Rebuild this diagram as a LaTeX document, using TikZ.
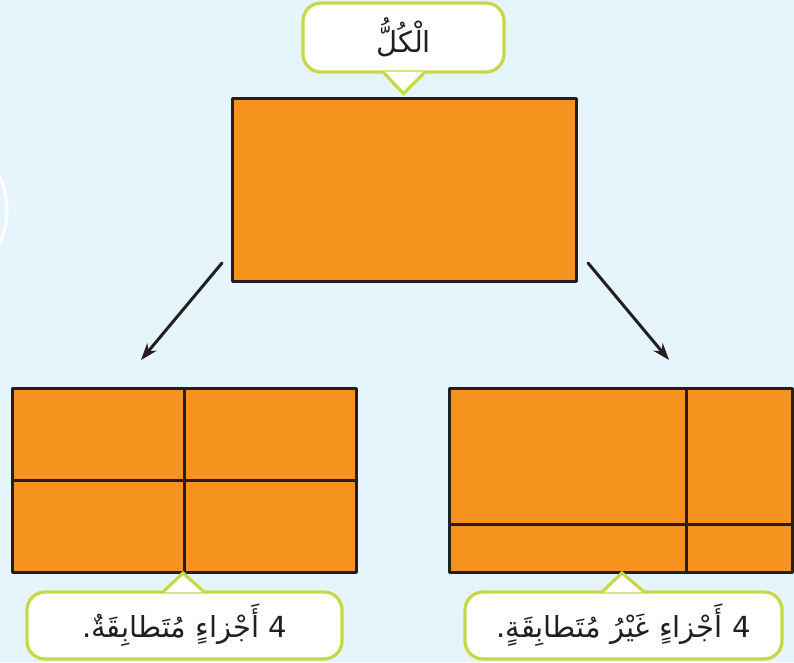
\documentclass[tikz,border=0pt]{standalone}
\usepackage{fontspec}
\usetikzlibrary{arrows.meta}
\newfontfamily\arabicfont[Script=Arabic]{DejaVu Sans}
\TeXXeTstate=1
\definecolor{skyback}{HTML}{E6F5FC}
\definecolor{partorange}{HTML}{F6931E}
\definecolor{inkline}{HTML}{231F20}
\definecolor{limeborder}{HTML}{C5D846}

\begin{document}
\begin{tikzpicture}[x=1pt,y=-1pt,line cap=round,line join=round,>={Stealth[length=17pt,width=12pt]},
  every node/.style={inner sep=1pt},
  piece/.style={draw=inkline,fill=partorange,line width=3pt,inner sep=0pt,outer sep=0pt},
  cut/.style={draw=inkline,line width=3pt,line cap=butt},
  bubble/.style={draw=limeborder,fill=white,line width=3.2pt,rounded corners=18pt,inner sep=0pt,
    font=\arabicfont\fontsize{29}{36}\selectfont,text=inkline},
  tip/.style={draw=limeborder,line width=3.2pt,line join=miter}]
  % background and faint ring at the left edge
  \fill[skyback] (0,0) rectangle (794,662);
  \useasboundingbox (0,0) rectangle (794,662);
  \draw[white,line width=3pt] (-73,210) circle (80);
  % the whole
  \node[piece,minimum width=344,minimum height=183] (whole) at (404,189.5) {};
  \node[bubble,minimum width=201,minimum height=69] (wholetag) at (403.5,37.5) {\beginR الْكُلُّ\endR};
  \coordinate (wholetip) at ([yshift=-20pt]wholetag.south);
  \fill[white] ([xshift=-19pt,yshift=2pt]wholetag.south) -- (wholetip) -- ([xshift=20pt,yshift=2pt]wholetag.south) -- cycle;
  \draw[tip] ([xshift=-19pt]wholetag.south) -- (wholetip) -- ([xshift=20pt]wholetag.south);
  % arrows down to the two ways of cutting
  \coordinate (lfrom) at (222,263);
  \coordinate (lto) at (141,360);
  \coordinate (rfrom) at (588,263);
  \coordinate (rto) at (669,360);
  \draw[->,line width=3pt,draw=inkline] (lfrom) -- (lto);
  \draw[->,line width=3pt,draw=inkline] (rfrom) -- (rto);
  % equal parts
  \node[piece,minimum width=344,minimum height=184] (equal) at (184,480) {};
  \draw[cut] (equal.north) -- (equal.south);
  \draw[cut] (equal.west) -- (equal.east);
  % unequal parts
  \node[piece,minimum width=343,minimum height=184] (unequal) at (620.5,480) {};
  \draw[cut] (686,388) -- (686,572);
  \draw[cut] (449,524) -- (792,524);
  % labels under the pieces
  \node[bubble,minimum width=315,minimum height=67] (equaltag) at (184.5,625.5) {\beginR \beginL4\endL{} أَجْزاءٍ مُتَطابِقَةٌ.\endR};
  \coordinate (equaltip) at (183,573);
  \fill[white] ([xshift=-20pt,yshift=-2pt]equaltag.north) -- (equaltip) -- ([xshift=18pt,yshift=-2pt]equaltag.north) -- cycle;
  \draw[tip] ([xshift=-20pt]equaltag.north) -- (equaltip) -- ([xshift=18pt]equaltag.north);
  \node[bubble,minimum width=317,minimum height=67] (unequaltag) at (623.5,625.5) {\beginR \beginL4\endL{} أَجْزاءٍ غَيْرُ مُتَطابِقَةٍ.\endR};
  \coordinate (unequaltip) at (622,573);
  \fill[white] ([xshift=-20pt,yshift=-2pt]unequaltag.north) -- (unequaltip) -- ([xshift=19pt,yshift=-2pt]unequaltag.north) -- cycle;
  \draw[tip] ([xshift=-20pt]unequaltag.north) -- (unequaltip) -- ([xshift=19pt]unequaltag.north);
\end{tikzpicture}
\end{document}
